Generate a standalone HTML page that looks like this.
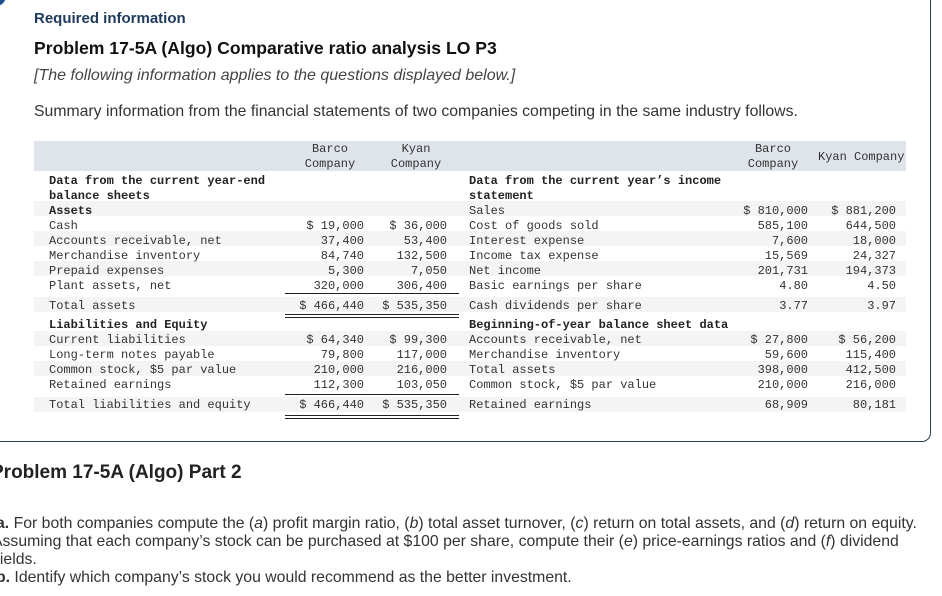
<!DOCTYPE html>
<html><head><meta charset="utf-8">
<style>
body{margin:0;width:942px;height:596px;overflow:hidden;background:#fff;position:relative;font-family:"Liberation Sans",sans-serif;}
.a{position:absolute;white-space:nowrap;}
.m{font-family:"Liberation Mono",monospace;font-size:12px;line-height:15px;color:#333;}
.b{font-weight:bold;color:#222;}
.r{text-align:right;}
.c{text-align:center;}
.stripe{position:absolute;left:34px;width:872px;height:15px;background:#f4f4f4;}
.ul{position:absolute;height:1px;background:#222;}
</style></head><body>
<div class="a" style="left:-20px;top:-20px;width:949px;height:460px;border:1px solid #2b3e50;border-radius:9px;"></div>
<div class="a" style="left:-14px;top:-14px;width:20px;height:20px;border-radius:50%;background:#1d4f8c;"></div>
<div class="a" style="left:34px;top:10px;font-size:15px;font-weight:bold;color:#1e3a5c;">Required information</div>
<div class="a" style="left:34px;top:38px;font-size:17.6px;font-weight:bold;color:#111;">Problem 17-5A (Algo) Comparative ratio analysis LO P3</div>
<div class="a" style="left:34px;top:67px;font-size:16px;font-style:italic;color:#444;">[The following information applies to the questions displayed below.]</div>
<div class="a" style="left:34px;top:103px;font-size:15.8px;color:#333;">Summary information from the financial statements of two companies competing in the same industry follows.</div>

<div>
<div class="a" style="left:34px;top:141px;width:872px;height:30px;background:#dfe3ea;"></div>
<div class="stripe" style="top:201px"></div>
<div class="stripe" style="top:231px"></div>
<div class="stripe" style="top:261px"></div>
<div class="stripe" style="top:297px"></div>
<div class="stripe" style="top:331px"></div>
<div class="stripe" style="top:361px"></div>
<div class="stripe" style="top:397px"></div>

<div class="a m c" style="left:290px;top:142px;width:80px;">Barco<br>Company</div>
<div class="a m c" style="left:376px;top:142px;width:80px;">Kyan<br>Company</div>
<div class="a m c" style="left:733px;top:142px;width:80px;">Barco<br>Company</div>
<div class="a m" style="left:818px;top:150px;">Kyan Company</div>

<div class="a m b" style="left:49px;top:174px;">Data from the current year-end<br>balance sheets</div>
<div class="a m b" style="left:469px;top:174px;">Data from the current year’s income<br>statement</div>

<div class="a m" style="left:49px;top:204px;">
<div class="b">Assets</div><div>Cash</div><div>Accounts receivable, net</div><div>Merchandise inventory</div><div>Prepaid expenses</div><div>Plant assets, net</div><div style="margin-top:5px">Total assets</div><div class="b" style="margin-top:4px">Liabilities and Equity</div><div>Current liabilities</div><div>Long-term notes payable</div><div>Common stock, $5 par value</div><div>Retained earnings</div><div style="margin-top:5px">Total liabilities and equity</div></div>

<div class="a m r" style="left:264px;top:204px;width:100px;">
<div>&nbsp;</div><div>$ 19,000</div><div>37,400</div><div>84,740</div><div>5,300</div><div>320,000</div><div style="margin-top:5px">$ 466,440</div><div style="margin-top:4px">&nbsp;</div><div>$ 64,340</div><div>79,800</div><div>210,000</div><div>112,300</div><div style="margin-top:5px">$ 466,440</div></div>

<div class="a m r" style="left:347px;top:204px;width:100px;">
<div>&nbsp;</div><div>$ 36,000</div><div>53,400</div><div>132,500</div><div>7,050</div><div>306,400</div><div style="margin-top:5px">$ 535,350</div><div style="margin-top:4px">&nbsp;</div><div>$ 99,300</div><div>117,000</div><div>216,000</div><div>103,050</div><div style="margin-top:5px">$ 535,350</div></div>

<div class="ul" style="left:285px;top:293px;width:174px;"></div>
<div class="ul" style="left:285px;top:314px;width:174px;"></div>
<div class="ul" style="left:285px;top:317px;width:174px;"></div>
<div class="ul" style="left:285px;top:394px;width:174px;"></div>
<div class="ul" style="left:285px;top:415px;width:174px;"></div>
<div class="ul" style="left:285px;top:418px;width:174px;"></div>

<div class="a m" style="left:469px;top:204px;">
<div>Sales</div><div>Cost of goods sold</div><div>Interest expense</div><div>Income tax expense</div><div>Net income</div><div>Basic earnings per share</div><div style="margin-top:5px">Cash dividends per share</div><div class="b" style="margin-top:4px">Beginning-of-year balance sheet data</div><div>Accounts receivable, net</div><div>Merchandise inventory</div><div>Total assets</div><div>Common stock, $5 par value</div><div style="margin-top:5px">Retained earnings</div></div>

<div class="a m r" style="left:708px;top:204px;width:100px;">
<div>$ 810,000</div><div>585,100</div><div>7,600</div><div>15,569</div><div>201,731</div><div>4.80</div><div style="margin-top:5px">3.77</div><div style="margin-top:4px">&nbsp;</div><div>$ 27,800</div><div>59,600</div><div>398,000</div><div>210,000</div><div style="margin-top:5px">68,909</div></div>

<div class="a m r" style="left:796px;top:204px;width:100px;">
<div>$ 881,200</div><div>644,500</div><div>18,000</div><div>24,327</div><div>194,373</div><div>4.50</div><div style="margin-top:5px">3.97</div><div style="margin-top:4px">&nbsp;</div><div>$ 56,200</div><div>115,400</div><div>412,500</div><div>216,000</div><div style="margin-top:5px">80,181</div></div>
</div>

<div class="a" style="left:-9px;top:462px;font-size:19px;font-weight:bold;color:#222;">Problem 17-5A (Algo) Part 2</div>
<div class="a" style="left:-4px;top:515px;font-size:15.8px;line-height:18px;color:#333;">
<div><b>a.</b> For both companies compute the (<i>a</i>) profit margin ratio, (<i>b</i>) total asset turnover, (<i>c</i>) return on total assets, and (<i>d</i>) return on equity.</div>
<div style="margin-left:-4px">Assuming that each company’s stock can be purchased at $100 per share, compute their (<i>e</i>) price-earnings ratios and (<i>f</i>) dividend</div>
<div style="margin-left:-4px">yields.</div>
<div><b>b.</b> Identify which company’s stock you would recommend as the better investment.</div>
</div>
</body></html>
